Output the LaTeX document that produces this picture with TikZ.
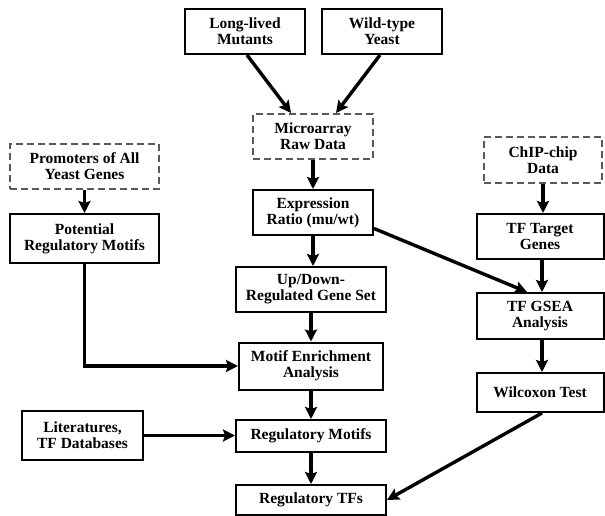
\documentclass[tikz,border=0pt]{standalone}
\usepackage{fontspec}
\setmainfont{Liberation Serif}
\usetikzlibrary{arrows.meta,calc}
\begin{document}
\begin{tikzpicture}[x=1pt,y=-1pt,
  box/.style={draw=black,line width=2pt,fill=white,inner sep=0pt,align=center,
    font=\fontsize{15.5}{16}\selectfont\bfseries},
  dbox/.style={box,draw=black!65,dash pattern=on 7pt off 4pt},
  arr/.style={line width=3.4pt,-{Stealth[length=12pt,width=12pt,inset=2pt]}}]
\useasboundingbox (0,0) rectangle (605,516);
% nodes
\node[box,minimum width=120pt,minimum height=45pt] (LL) at (245,31.5) {Long-lived\\Mutants};
\node[box,minimum width=120pt,minimum height=45pt] (WT) at (382,31.5) {Wild-type\\Yeast};
\node[dbox,minimum width=120pt,minimum height=45pt] (MA) at (313,136.5) {Microarray\\Raw Data};
\node[dbox,minimum width=149pt,minimum height=45pt] (PR) at (84.5,166.5) {Promoters of All\\Yeast Genes};
\node[dbox,minimum width=118pt,minimum height=46pt] (CH) at (543,160) {ChIP-chip\\Data};
\node[box,minimum width=120pt,minimum height=45pt] (ER) at (313,212.5) {Expression\\Ratio (mu/wt)};
\node[box,minimum width=149pt,minimum height=49pt] (PM) at (84.5,238.5) {Potential\\Regulatory Motifs};
\node[box,minimum width=127pt,minimum height=45pt] (TT) at (540,236.5) {TF Target\\Genes};
\node[box,minimum width=150pt,minimum height=45pt] (UD) at (311,289.5) {Up/Down-\\Regulated Gene Set};
\node[box,minimum width=127pt,minimum height=46pt] (GS) at (540,316) {TF GSEA\\Analysis};
\node[box,minimum width=144pt,minimum height=47pt] (ME) at (311,366) {Motif Enrichment\\Analysis};
\node[box,minimum width=127pt,minimum height=39pt] (WX) at (540,392.5) {Wilcoxon Test};
\node[box,minimum width=121pt,minimum height=49pt] (LT) at (82.5,435.5) {Literatures,\\TF Databases};
\node[box,minimum width=150pt,minimum height=32pt] (RM) at (311,436) {Regulatory Motifs};
\node[box,minimum width=150pt,minimum height=30pt] (RT) at (311,500) {Regulatory TFs};
% connectors
\draw[arr] ([xshift=2pt]LL.south) -- ([xshift=-22pt]MA.north);
\draw[arr] ([xshift=-2pt]WT.south) -- ([xshift=23pt]MA.north);
\draw[arr] (MA.south) -- (ER.north);
\draw[arr] (PR.south) -- (PM.north);
\draw[arr] (CH.south) -- (CH.south |- TT.north);
\draw[arr] ([yshift=-16pt]ER.east) -- ([xshift=-13pt]GS.north);
\draw[arr] ([xshift=2pt]TT.south) -- ([xshift=2pt]GS.north);
\draw[arr] (ER.south) -- (ER.south |- UD.north);
\draw[arr] (UD.south) -- (ME.north);
\draw[arr] (PM.south) |- (ME.west);
\draw[arr] (ME.south) -- (RM.north);
\draw[arr] (LT.east) -- (LT.east -| RM.west);
\draw[arr] (RM.south) -- (RT.north);
\draw[arr] ([xshift=2pt]GS.south) -- ([xshift=2pt]WX.north);
\draw[arr] ([xshift=2pt]WX.south) -- (RT.east);
\end{tikzpicture}
\end{document}
